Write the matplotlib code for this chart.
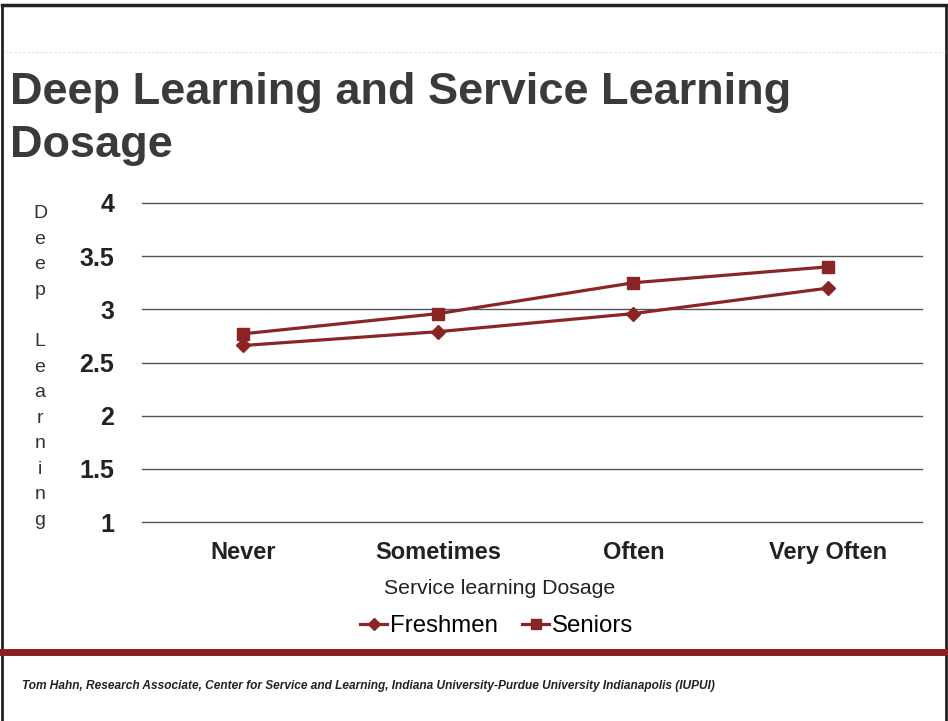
import matplotlib
matplotlib.use("Agg")
import matplotlib.pyplot as plt
from matplotlib.lines import Line2D

plt.rcParams['font.family'] = ['Liberation Sans', 'DejaVu Sans']

categories = ["Never", "Sometimes", "Often", "Very Often"]
freshmen = [2.66, 2.79, 2.96, 3.20]
seniors = [2.77, 2.96, 3.25, 3.40]
y_ticks = [1, 1.5, 2, 2.5, 3, 3.5, 4]
y_tick_labels = ["1", "1.5", "2", "2.5", "3", "3.5", "4"]

line_color = "#8B2525"
W, H = 948, 721
fig = plt.figure(figsize=(W / 100, H / 100), dpi=100)
fig.patch.set_facecolor("white")

# slide frame
frame = fig.add_axes([0, 0, 1, 1])
frame.set_xlim(0, W)
frame.set_ylim(H, 0)
frame.axis("off")
frame.plot([2, 946], [5, 5], color="#222222", lw=2.5)
frame.plot([2, 2], [5, 721], color="#222222", lw=2)
frame.plot([946, 946], [5, 721], color="#222222", lw=2)
frame.plot([5, 946], [52, 52], color="#e8e4b0", lw=0.8, ls=(0, (2, 2)))
frame.plot([0, 948], [652, 652], color="#8B1E1E", lw=5)

frame.text(10, 119, "Deep Learning and Service Learning\nDosage", fontsize=32.5,
           fontweight="bold", color="#3a3a3a", va="center", ha="left", linespacing=1.38)
frame.text(22, 686, "Tom Hahn, Research Associate, Center for Service and Learning, "
           "Indiana University-Purdue University Indianapolis (IUPUI)",
           fontsize=8.6, fontweight="bold", fontstyle="italic", color="#222222",
           va="center", ha="left")

# stacked y-axis title
frame.text(40, 367, "D\ne\ne\np\n\nL\ne\na\nr\nn\ni\nn\ng", fontsize=14,
           color="#333333", ha="center", va="center", linespacing=1.66)

frame.text(500, 589, "Service learning Dosage", fontsize=15.3, color="#222222",
           ha="center", va="center")

# chart area
ax = fig.add_axes([142 / W, 1 - 522 / H, (922 - 142) / W, (522 - 203) / H])
ax.set_facecolor("none")
x = list(range(len(categories)))
ax.plot(x, freshmen, color=line_color, lw=2.3, marker="D", markersize=7, label="Freshmen")
ax.plot(x, seniors, color=line_color, lw=2.3, marker="s", markersize=8, label="Seniors")
ax.set_xlim(-0.52, 3.48)
ax.set_ylim(1, 4)
ax.set_yticks(y_ticks)
ax.set_yticklabels(y_tick_labels, fontsize=18, fontweight="bold", color="#222222")
ax.set_xticks(x)
ax.set_xticklabels(categories, fontsize=17, fontweight="bold", color="#222222")
ax.tick_params(axis="x", length=0, pad=14)
ax.tick_params(axis="y", length=0, pad=20)
for t in y_ticks:
    ax.axhline(t, color="#555555", lw=1, zorder=0, clip_on=False)
for s in ax.spines.values():
    s.set_visible(False)

handles = [
    Line2D([], [], color=line_color, lw=2.3, marker="D", markersize=6),
    Line2D([], [], color=line_color, lw=2.3, marker="s", markersize=7),
]
fig.legend(handles, ["Freshmen", "Seniors"], loc="center", bbox_to_anchor=(497 / W, 1 - 626 / H),
           ncol=2, frameon=False, fontsize=17.3, handlelength=1.1, handletextpad=0.15,
           columnspacing=1.0)

fig.savefig("out.png", dpi=100, facecolor="white")
